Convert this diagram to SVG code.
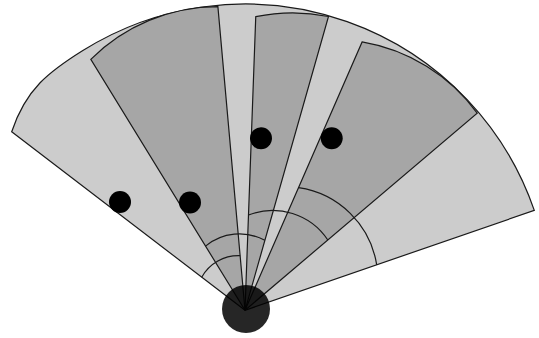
<svg xmlns="http://www.w3.org/2000/svg" width="539" height="338" viewBox="0 0 539 338">
  <style>
    .light { fill: #cccccc; stroke: #1a1a1a; stroke-width: 1.2; stroke-linejoin: miter; }
    .dark { fill: #a6a6a6; stroke: #1a1a1a; stroke-width: 1.2; stroke-linejoin: miter; }
    .arc { fill: none; stroke: #1a1a1a; stroke-width: 1.2; }
    .dot { fill: #000000; }
    .sensor { fill: #000000; fill-opacity: 0.85; }
  </style>
  <rect x="0" y="0" width="539" height="338" fill="#ffffff"/>
  <g id="fan">
    <path class="light" d="M 245 310.3 L 11.7 131.7 C 25.9 89 48.9 71.7 82.85 50.5 A 306 306 0 0 1 534.3 210.4 Z"/>
  </g>
  <g id="sector-1">
    <path class="dark" d="M 245 310.3 L 90.8 59.4 A 180 180 0 0 1 217.9 6.7 Z"/>
  </g>
  <g id="sector-2">
    <path class="dark" d="M 245 310.3 L 255.75 16.7 A 180 180 0 0 1 328.5 16.5 Z"/>
  </g>
  <g id="sector-3">
    <path class="dark" d="M 245 310.3 L 362.1 41.9 A 180 180 0 0 1 477.2 113.1 Z"/>
  </g>
  <g id="connectors">
    <path class="arc" d="M 201.7 277.3 A 42.1 42.1 0 0 1 240.1 255.7"/>
    <path class="arc" d="M 205.5 246.1 A 53.5 53.5 0 0 1 264.8 240.3"/>
    <path class="arc" d="M 248.5 215 A 66.3 66.3 0 0 1 327.8 240"/>
    <path class="arc" d="M 298.5 187.7 A 92.6 92.6 0 0 1 376.7 264.8"/>
  </g>
  <g id="dots">
    <circle class="dot" cx="120" cy="202" r="11"/>
    <circle class="dot" cx="190" cy="202.5" r="11"/>
    <circle class="dot" cx="261" cy="138.3" r="11"/>
    <circle class="dot" cx="331.7" cy="138.3" r="11"/>
  </g>
  <g id="sensor">
    <circle class="sensor" cx="246" cy="309" r="24"/>
  </g>
</svg>
